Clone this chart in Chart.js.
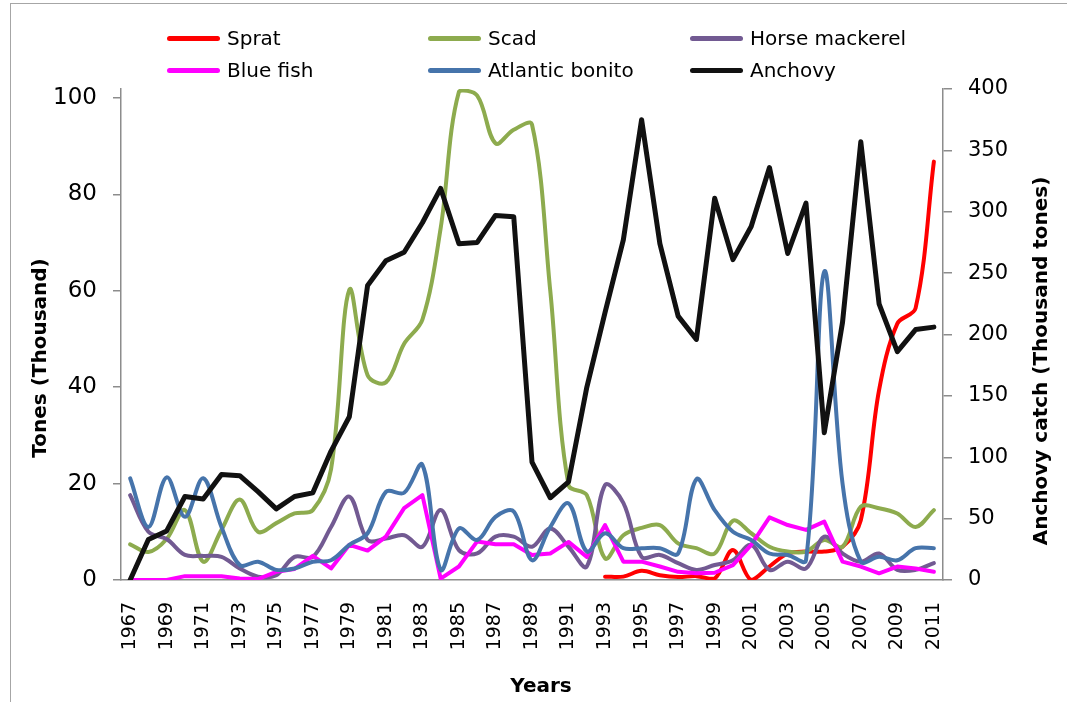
<!DOCTYPE html>
<html>
<head>
<meta charset="utf-8">
<script src="https://cdn.jsdelivr.net/npm/chart.js@4.4.0/dist/chart.umd.min.js"></script>
<style>
  body { margin: 0; background: #fff; }
  #wrap { position: relative; width: 1067px; height: 702px; overflow: hidden; }
  #frame { position: absolute; left: 10px; top: 3px; right: -2px; bottom: -2px; border-top: 1px solid #a6a6a6; border-left: 1px solid #a6a6a6; }
  #chart { position: absolute; left: 0; top: 0; }
  .item { position: absolute; display: flex; align-items: center; font: 20px "DejaVu Sans", sans-serif; color: #000; white-space: nowrap; height: 24px; }
  .swatch { width: 53px; height: 5px; border-radius: 3px; margin-right: 7px; }
</style>
</head>
<body>
<div id="wrap">
  <div id="frame"></div>
  <canvas id="chart" width="1067" height="702"></canvas>
  <div id="legend"></div>
</div>
<script>
const years = [];
for (let y = 1967; y <= 2011; y++) years.push(String(y));

// thousand tonnes, left axis
const sprat = [null, null, null, null, null, null, null, null, null, null,
  null, null, null, null, null, null, null, null, null, null,
  null, null, null, null, null, null,
  0.7, 0.7, 1.9, 1.0, 0.6, 0.8, 0.3, 6.2, 0.0, 2.8,
  5.5, 5.9, 5.9, 6.9, 12.4, 39.4, 53.2, 56.4, 86.8];
const scad = [7.4, 5.8, 8.5, 14.5, 3.8, 10.4, 16.7, 10.0, 11.8, 13.8,
  14.5, 23.0, 60.2, 42.5, 41.0, 49.0, 54.0, 73.0, 101.3, 100.5,
  90.6, 93.4, 94.5, 60.0, 19.7, 17.6, 4.5, 9.3, 10.8, 11.4,
  7.6, 6.6, 5.5, 12.3, 9.7, 6.9, 5.9, 5.9, 8.3, 6.9,
  15.2, 14.9, 13.8, 11.0, 14.5];
const horseMackerel = [17.6, 10.0, 8.5, 5.2, 5.0, 4.8, 2.4, 0.7, 1.0, 4.8,
  4.8, 11.0, 17.3, 8.3, 8.6, 9.3, 6.9, 14.5, 6.2, 5.5,
  9.0, 9.0, 6.9, 10.7, 6.9, 2.8, 19.7, 16.0, 4.8, 5.2,
  3.5, 2.1, 3.1, 4.1, 7.3, 2.1, 3.8, 2.4, 9.0, 5.5,
  3.8, 5.5, 2.1, 2.1, 3.5];
const blueFish = [0, 0, 0, 0.8, 0.8, 0.8, 0.3, 0.2, 1.7, 2.3,
  5.0, 2.4, 7.3, 6.1, 9.0, 14.9, 17.6, 0.3, 2.8, 8.0,
  7.4, 7.4, 5.2, 5.5, 7.9, 4.8, 11.4, 3.8, 3.8, 2.8,
  1.7, 1.4, 1.5, 3.1, 7.3, 13.0, 11.4, 10.4, 12.1, 3.8,
  2.8, 1.4, 2.8, 2.4, 1.7];
const atlanticBonito = [21.1, 11.0, 21.3, 13.1, 21.1, 11.0, 3.1, 3.8, 2.1, 2.4,
  3.8, 4.1, 7.3, 9.7, 18.3, 18.1, 23.9, 2.1, 10.7, 8.3,
  13.1, 14.2, 4.1, 11.0, 15.9, 5.9, 9.7, 6.6, 6.6, 6.6,
  5.5, 20.9, 14.5, 10.0, 8.3, 5.5, 5.2, 4.1, 64.0, 20.0,
  3.8, 4.8, 4.1, 6.6, 6.6];
// thousand tonnes, right axis
const anchovy = [0, 33, 40, 68, 66, 86, 85, 72, 58, 68,
  71, 105, 133, 240, 260, 267, 291, 319, 274, 275,
  297, 296, 96, 67, 80, 157, 218, 277, 375, 274,
  215, 196, 311, 261, 288, 336, 266, 307, 120, 210,
  357, 225, 186, 204, 206];

const leftTicks = [0, 20, 40, 60, 80, 100];
const rightTicks = [0, 50, 100, 150, 200, 250, 300, 350, 400];

const FONT = '"DejaVu Sans", sans-serif';

function series(label, data, color, axis, smooth, order, width) {
  return {
    label: label,
    data: data,
    borderColor: color,
    backgroundColor: color,
    borderWidth: width || 4,
    pointRadius: 0,
    tension: smooth ? 0.35 : 0,
    yAxisID: axis,
    spanGaps: false,
    borderCapStyle: 'round',
    borderJoinStyle: 'round',
    order: order
  };
}

const axisTitles = {
  id: 'axisTitles',
  afterDraw(chart) {
    const ctx = chart.ctx;
    const a = chart.chartArea;
    ctx.save();
    ctx.font = 'bold 20px ' + FONT;
    ctx.fillStyle = '#000';
    ctx.textAlign = 'center';
    ctx.textBaseline = 'middle';
    ctx.fillText('Years', a.left + 420, a.bottom + 107);

    ctx.save();
    ctx.translate(a.left - 80, a.bottom - 222);
    ctx.rotate(-Math.PI / 2);
    ctx.fillText('Tones (Thousand)', 0, 0);
    ctx.restore();

    ctx.save();
    ctx.translate(a.right + 99, a.bottom - 219);
    ctx.rotate(-Math.PI / 2);
    ctx.fillText('Anchovy catch (Thousand tones)', 0, 0);
    ctx.restore();
    ctx.restore();
  }
};

const chart = new Chart(document.getElementById('chart'), {
  type: 'line',
  data: {
    labels: years,
    datasets: [
      series('Sprat', sprat, '#ff0000', 'y', true, 5),
      series('Scad', scad, '#8dab4e', 'y', true, 4),
      series('Horse mackerel', horseMackerel, '#725a92', 'y', true, 3),
      series('Blue fish', blueFish, '#ff00ff', 'y', false, 2),
      series('Atlantic bonito', atlanticBonito, '#4674ab', 'y', true, 1),
      series('Anchovy', anchovy, '#111111', 'y1', false, 0, 5)
    ]
  },
  options: {
    responsive: false,
    animation: false,
    events: [],
    layout: { padding: { top: 89, left: 0, right: 0, bottom: 0 } },
    plugins: {
      legend: { display: false },
      tooltip: { enabled: false }
    },
    scales: {
      x: {
        offset: true,
        grid: { display: false },
        border: { display: true, color: '#8c8c8c', width: 1.5 },
        ticks: {
          autoSkip: false,
          minRotation: 90,
          maxRotation: 90,
          padding: 14,
          color: '#000',
          font: { family: FONT, size: 19 },
          callback: function (v, i) { return i % 2 === 0 ? years[i] : ''; }
        },
        afterFit: function (s) { s.height = 122; }
      },
      y: {
        position: 'left',
        min: 0,
        max: 101.87,
        grid: { display: true, drawOnChartArea: false, drawTicks: true, tickLength: 8, color: '#8c8c8c', lineWidth: 1.5 },
        border: { display: true, color: '#8c8c8c', width: 1.5 },
        ticks: { padding: 16, color: '#000', font: { family: FONT, size: 23 } },
        afterBuildTicks: function (s) { s.ticks = leftTicks.map(v => ({ value: v })); },
        afterFit: function (s) { s.width = 121; }
      },
      y1: {
        position: 'right',
        min: 0,
        max: 400,
        grid: { display: true, drawOnChartArea: false, drawTicks: true, tickLength: 9, color: '#8c8c8c', lineWidth: 1.5 },
        border: { display: true, color: '#8c8c8c', width: 1.5 },
        ticks: { padding: 16, color: '#000', font: { family: FONT, size: 21 } },
        afterBuildTicks: function (s) { s.ticks = rightTicks.map(v => ({ value: v })); },
        afterFit: function (s) { s.width = 124; }
      }
    }
  },
  plugins: [axisTitles]
});

// legend in three columns, two rows, like the original
const legendBox = document.getElementById('legend');
const colLeft = [167, 428, 690];
const rowTop = [26, 58];
chart.data.datasets.forEach(function (ds, i) {
  const item = document.createElement('div');
  item.className = 'item';
  item.style.left = colLeft[i % 3] + 'px';
  item.style.top = rowTop[Math.floor(i / 3)] + 'px';
  const sw = document.createElement('span');
  sw.className = 'swatch';
  sw.style.background = ds.borderColor;
  const txt = document.createElement('span');
  txt.textContent = ds.label;
  item.appendChild(sw);
  item.appendChild(txt);
  legendBox.appendChild(item);
});
</script>
</body>
</html>
